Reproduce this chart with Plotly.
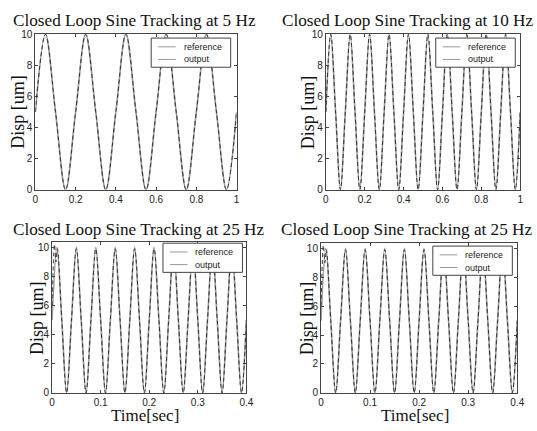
import plotly.graph_objects as go

W, H = 537, 431

# ---- data (extrema and mid crossings) ----
t_5hz = [0, 0.05, 0.10, 0.15, 0.20, 0.25, 0.30, 0.35, 0.40, 0.45, 0.50,
         0.55, 0.60, 0.65, 0.70, 0.75, 0.80, 0.85, 0.90, 0.95, 1.00]
ref_5hz = [5, 10, 5, 0, 5, 10, 5, 0, 5, 10, 5, 0, 5, 10, 5, 0, 5, 10, 5, 0, 5]
out_5hz = [5, 10, 5, 0, 5, 10, 5, 0, 5, 10, 5, 0, 5, 10, 5, 0, 5, 10, 5, 0, 5]

t_10hz = [0, 0.025, 0.05, 0.075, 0.10, 0.125, 0.15, 0.175, 0.20, 0.225, 0.25,
          0.275, 0.30, 0.325, 0.35, 0.375, 0.40, 0.425, 0.45, 0.475, 0.50,
          0.525, 0.55, 0.575, 0.60, 0.625, 0.65, 0.675, 0.70, 0.725, 0.75,
          0.775, 0.80, 0.825, 0.85, 0.875, 0.90, 0.925, 0.95, 0.975, 1.00]
ref_10hz = [5, 10, 5, 0, 5, 10, 5, 0, 5, 10, 5, 0, 5, 10, 5, 0, 5, 10, 5, 0, 5,
            10, 5, 0, 5, 10, 5, 0, 5, 10, 5, 0, 5, 10, 5, 0, 5, 10, 5, 0, 5]
out_10hz = [5, 10, 5, 0, 5, 10, 5, 0, 5, 10, 5, 0, 5, 10, 5, 0, 5, 10, 5, 0, 5,
            10, 5, 0, 5, 10, 5, 0, 5, 10, 5, 0, 5, 10, 5, 0, 5, 10, 5, 0, 5]

t_25hz = [0, 0.01, 0.02, 0.03, 0.04, 0.05, 0.06, 0.07, 0.08, 0.09, 0.10,
          0.11, 0.12, 0.13, 0.14, 0.15, 0.16, 0.17, 0.18, 0.19, 0.20,
          0.21, 0.22, 0.23, 0.24, 0.25, 0.26, 0.27, 0.28, 0.29, 0.30,
          0.31, 0.32, 0.33, 0.34, 0.35, 0.36, 0.37, 0.38, 0.39, 0.40]
ref_25hz = [5, 10, 5, 0, 5, 10, 5, 0, 5, 10, 5, 0, 5, 10, 5, 0, 5, 10, 5, 0, 5,
            10, 5, 0, 5, 10, 5, 0, 5, 10, 5, 0, 5, 10, 5, 0, 5, 10, 5, 0, 5]
t_25hz_out = [0, 0.005, 0.008, 0.011, 0.02, 0.03, 0.04, 0.05, 0.06, 0.07, 0.08,
              0.09, 0.10, 0.11, 0.12, 0.13, 0.14, 0.15, 0.16, 0.17, 0.18, 0.19,
              0.20, 0.21, 0.22, 0.23, 0.24, 0.25, 0.26, 0.27, 0.28, 0.29, 0.30,
              0.31, 0.32, 0.33, 0.34, 0.35, 0.36, 0.37, 0.38, 0.39, 0.40]
out_25hz = [6, 10.2, 9.0, 9.9, 5, 0, 5, 9.9, 5, 0, 5, 9.9, 5, 0, 5, 9.9, 5, 0,
            5, 9.9, 5, 0, 5, 9.9, 5, 0, 5, 9.9, 5, 0, 5, 9.9, 5, 0, 5, 9.9, 5,
            0, 5, 9.9, 5, 0, 5]

titles = ["Closed Loop Sine Tracking at 5 Hz", "Closed Loop Sine Tracking at 10 Hz",
          "Closed Loop Sine Tracking at 25 Hz", "Closed Loop Sine Tracking at 25 Hz"]
y_label = "Disp [um]"
x_label = "Time[sec]"
legend_names = ["reference", "output"]
y_ticks = [0, 2, 4, 6, 8, 10]
x_ticks_1s = [0, 0.2, 0.4, 0.6, 0.8, 1]
x_ticks_04s = [0, 0.1, 0.2, 0.3, 0.4]


def px(x):
    return x / W


def py(y):
    return 1 - y / H


# panel pixel boxes: left, right, top, bottom
boxes = [(33, 238, 29, 189), (329, 527, 29, 189), (50, 248, 243, 398), (324, 524, 244, 398)]
legend_boxes = [(151, 33), (441, 33), (163, 244), (438, 247)]
title_pos = [(8, 15), (282, 15), (8, 230), (281, 230)]
ylabel_x = [15, 311, 34, 310]

REF_STYLE = dict(color="#9a9a9a", width=1.6)
OUT_STYLE = dict(color="#333", width=1, dash="4px,3px")

panels = [
    (t_5hz, ref_5hz, t_5hz, out_5hz, [0, 1], x_ticks_1s, [0, 10]),
    (t_10hz, ref_10hz, t_10hz, out_10hz, [0, 1], x_ticks_1s, [0, 10]),
    (t_25hz, ref_25hz, t_25hz_out, out_25hz, [0, 0.4], x_ticks_04s, [0, 10.35]),
    (t_25hz, ref_25hz, t_25hz_out, out_25hz, [0, 0.4], x_ticks_04s, [0, 10.35]),
]

fig = go.Figure()
layout = dict(
    width=W, height=H, margin=dict(l=0, r=0, t=0, b=0),
    paper_bgcolor="white", plot_bgcolor="white", showlegend=False,
    font=dict(family="Liberation Sans, Arial, sans-serif", color="#222"),
    annotations=[], shapes=[],
)

serif = "Liberation Serif, Times New Roman, serif"

for i, (tr, yr, to, yo, xr, xt, yrng) in enumerate(panels):
    n = i + 1
    xa = "x" if n == 1 else f"x{n}"
    ya = "y" if n == 1 else f"y{n}"
    fig.add_trace(go.Scatter(x=tr, y=yr, mode="lines", name=legend_names[0],
                             line=dict(shape="spline", smoothing=1.0, **REF_STYLE),
                             xaxis=xa, yaxis=ya))
    fig.add_trace(go.Scatter(x=to, y=yo, mode="lines", name=legend_names[1],
                             line=dict(shape="spline", smoothing=1.0, **OUT_STYLE),
                             xaxis=xa, yaxis=ya))
    l, r, t, b = boxes[i]
    axkw = dict(showline=True, linecolor="#444", linewidth=1, mirror="ticks",
                ticks="inside", ticklen=3, tickcolor="#444", showgrid=False,
                zeroline=False, tickfont=dict(size=10, color="#222"))
    layout["xaxis" if n == 1 else f"xaxis{n}"] = dict(
        domain=[px(l), px(r)], anchor=ya, range=xr, tickvals=xt,
        ticktext=[("%g" % v) for v in xt], **axkw)
    layout["yaxis" if n == 1 else f"yaxis{n}"] = dict(
        domain=[py(b), py(t)], anchor=xa, range=yrng, tickvals=y_ticks,
        ticktext=[str(v) for v in y_ticks], **axkw)

    # legend box (drawn as a small boxed key)
    lx, ly = legend_boxes[i]
    layout["shapes"].append(dict(type="rect", xref="paper", yref="paper",
                                 x0=px(lx), x1=px(lx + 81), y0=py(ly + 30), y1=py(ly),
                                 line=dict(color="#444", width=1), fillcolor="white", layer="above"))
    for k, name in enumerate(legend_names):
        yy = ly + 9 + k * 13
        layout["shapes"].append(dict(type="line", xref="paper", yref="paper",
                                     x0=px(lx + 7), x1=px(lx + 25), y0=py(yy), y1=py(yy),
                                     line=dict(color="#9a9a9a", width=1), layer="above"))
        layout["annotations"].append(dict(text=name, x=px(lx + 31), y=py(yy), xref="paper",
                                          yref="paper", showarrow=False, xanchor="left",
                                          yanchor="middle", font=dict(size=9, color="#222")))

    tx, ty = title_pos[i]
    layout["annotations"].append(dict(text=titles[i], x=px(tx), y=py(ty), xref="paper", yref="paper",
                                      showarrow=False, xanchor="left", yanchor="middle",
                                      font=dict(family=serif, size=17.2, color="#111")))
    layout["annotations"].append(dict(text=y_label, x=px(ylabel_x[i]), y=py((t + b) / 2), xref="paper",
                                      yref="paper", showarrow=False, textangle=-90,
                                      xanchor="center", yanchor="middle",
                                      font=dict(family=serif, size=18, color="#111")))
    if n >= 3:
        layout["annotations"].append(dict(text=x_label, x=px((l + r) / 2 - 4), y=py(421), xref="paper",
                                          yref="paper", showarrow=False, xanchor="center",
                                          yanchor="middle", borderpad=0,
                                          font=dict(family=serif, size=17, color="#111")))

fig.update_layout(**layout)
fig.write_html("out.html", config={"displayModeBar": False},
               post_script="document.body.style.margin='0';document.body.style.overflow='hidden';")
